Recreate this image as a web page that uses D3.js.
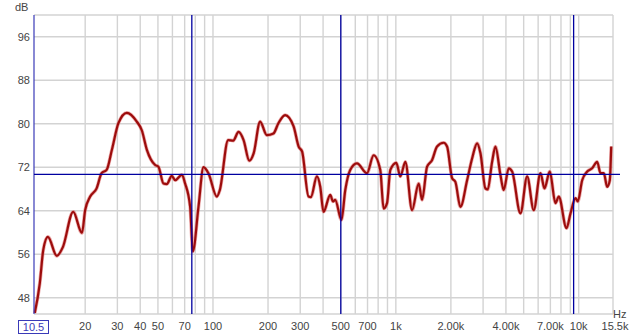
<!DOCTYPE html>
<html>
<head>
<meta charset="utf-8">
<script src="https://cdn.jsdelivr.net/npm/d3@7"></script>
<style>
  body { margin: 0; background: #fff; }
  svg { font-family: "Liberation Sans", Arial, sans-serif; }
  .grid line { stroke: #d3d3d3; stroke-width: 1.4; }
  .lbl { font-size: 11px; fill: #444; }
</style>
</head>
<body>
<script>
var freqs = [10.6, 11.3, 11.8, 12.5, 14.0, 15.1, 17.2, 19.2, 20.0, 21.3, 23.1, 24.6, 26.2, 28.0, 30.4, 33.8,
  38.3, 40.8, 43.5, 48.3, 50.3, 53.6, 55.9, 59.5, 62.1, 67.6, 70.4, 75.0, 77.6, 83.3, 88.7, 94.4,
  105, 109, 121, 129, 138, 147, 158, 167, 181, 197, 214, 228, 248, 276, 294, 307, 333, 343, 370,
  386, 402, 438, 453, 466, 504, 529, 563, 613, 695, 756, 822, 857, 895, 933, 1006, 1058, 1127,
  1226, 1333, 1391, 1482, 1577, 1680, 1826, 1906, 2030, 2116, 2254, 2453, 2612, 2783, 2901, 3089,
  3179, 3361, 3504, 3731, 3889, 4144, 4325, 4801, 5224, 5677, 6178, 6497, 6946, 7463, 7779, 8574,
  9018, 9601, 9883, 10447, 11130, 11845, 12621, 13157, 13713, 14312, 14795, 15057];
var levels = [45.2, 50.7, 56.8, 59.2, 55.7, 57.3, 63.8, 59.9, 64.1, 66.6, 68.1, 70.9, 71.5, 75.2, 80.1, 82.0,
  80.4, 78.8, 75.2, 72.4, 72.1, 69.0, 68.9, 70.4, 69.6, 70.6, 69.0, 64.7, 56.5, 64.7, 72.0, 70.9,
  66.6, 67.8, 77.0, 76.9, 78.5, 77.0, 73.2, 74.6, 80.4, 77.9, 78.2, 80.1, 81.6, 79.5, 75.8, 74.9, 66.6, 66.5, 70.3,
  68.4, 63.8, 66.9, 65.7, 66.0, 62.3, 67.8, 71.5, 72.7, 70.9, 74.2, 71.5, 64.4, 65.4, 71.5, 72.8, 70.3, 73.0,
  64.1, 69.0, 66.0, 72.1, 73.3, 75.8, 76.5, 75.8, 70.0, 69.3, 64.7, 69.6, 73.6, 76.4, 74.6, 68.1,
  67.9, 73.0, 75.8, 70.6, 67.8, 71.8, 71.2, 63.5, 70.3, 64.1, 70.9, 68.1, 71.2, 65.4, 66.6, 60.8,
  63.5, 66.3, 65.7, 69.6, 71.2, 71.8, 73.0, 70.9, 70.9, 68.4, 69.6, 75.8];

var yTicks = [96, 88, 80, 72, 64, 56, 48];
var xTicks = [20, 30, 40, 50, 70, 100, 200, 300, 500, 700, 1000, 2000, 4000, 7000, 10000, 15500];
var xTickText = ["20", "30", "40", "50", "70", "100", "200", "300", "500", "700", "1k", "2.00k", "4.00k", "7.00k", "10k", "15.5k"];
var cursorsHz = [76.6, 500, 9380];
var cursorDb = 70.7;

window.onload = drawChart;

function drawChart() {
    var width = 634, height = 336;
    var plotL = 34, plotR = 613, plotT = 15, plotB = 314;

    var svg = d3.select("body").append("svg")
        .attr("width", width)
        .attr("height", height);

    var x = d3.scaleLog().domain([10.5, 15400]).range([plotL, plotR]);
    var y = d3.scaleLinear().domain([45, 100]).range([plotB, plotT]);

    // grid lines, 10 per decade from 20 Hz
    var gridHz = [];
    [10, 100, 1000].forEach(function(dec) {
        for (var m = 1; m <= 9; m++) {
            var f = dec * m;
            if (f >= 20) gridHz.push(f);
        }
    });
    gridHz.push(10000);

    var grid = svg.append("g").attr("class", "grid");
    grid.selectAll(".vx").data(gridHz).enter().append("line")
        .attr("x1", function(d) { return x(d); })
        .attr("x2", function(d) { return x(d); })
        .attr("y1", plotT).attr("y2", plotB);
    grid.selectAll(".hy").data(yTicks.concat([100])).enter().append("line")
        .attr("x1", plotL).attr("x2", plotR)
        .attr("y1", function(d) { return y(d); })
        .attr("y2", function(d) { return y(d); });
    grid.append("line").attr("x1", plotR).attr("x2", plotR).attr("y1", plotT).attr("y2", plotB);
    grid.append("line").attr("x1", plotL).attr("x2", plotR).attr("y1", plotB).attr("y2", plotB);

    // y labels
    svg.selectAll(".ylab").data(yTicks).enter().append("text")
        .attr("class", "lbl")
        .attr("x", 30)
        .attr("y", function(d) { return y(d) + 4; })
        .attr("text-anchor", "end")
        .text(function(d) { return d; });
    svg.append("text").attr("class", "lbl").attr("x", 15).attr("y", 11).text("dB");

    // x labels
    svg.selectAll(".xlab").data(xTicks).enter().append("text")
        .attr("class", "lbl")
        .attr("x", function(d, i) { return i == xTicks.length - 1 ? 615 : x(d); })
        .attr("y", 330)
        .attr("text-anchor", "middle")
        .text(function(d, i) { return xTickText[i]; });
    svg.append("text").attr("class", "lbl").attr("x", 613).attr("y", 318).text("Hz");

    // start frequency box
    svg.append("rect")
        .attr("x", 18.5).attr("y", 320.5).attr("width", 30).attr("height", 13)
        .attr("fill", "#fff").attr("stroke", "#3a3ab8");
    svg.append("text").attr("class", "lbl")
        .attr("x", 33.5).attr("y", 331)
        .attr("text-anchor", "middle")
        .style("fill", "#3a3ab8")
        .text("10.5");

    // curve
    var pts = freqs.map(function(f, i) { return [f, levels[i]]; });
    var line = d3.line()
        .x(function(d) { return x(d[0]); })
        .y(function(d) { return y(d[1]); })
        .curve(d3.curveMonotoneX);

    svg.append("path").datum(pts)
        .attr("d", line)
        .attr("fill", "none")
        .attr("stroke", "#e07070")
        .attr("stroke-opacity", 0.6)
        .attr("stroke-width", 3.6)
        .attr("stroke-linejoin", "round");
    svg.append("path").datum(pts)
        .attr("d", line)
        .attr("fill", "none")
        .attr("stroke", "#9c0c0c")
        .attr("stroke-width", 2.2)
        .attr("stroke-linejoin", "round");

    // left axis and cursors
    svg.append("line")
        .attr("x1", plotL).attr("x2", plotL).attr("y1", plotT).attr("y2", plotB)
        .attr("stroke", "#3a3ab8").attr("stroke-width", 1.2);
    svg.selectAll(".cur").data(cursorsHz).enter().append("line")
        .attr("x1", function(d) { return x(d); })
        .attr("x2", function(d) { return x(d); })
        .attr("y1", plotT).attr("y2", plotB)
        .attr("stroke", "#0000a0").attr("stroke-width", 1.3);
    svg.append("line")
        .attr("x1", plotL).attr("x2", 620)
        .attr("y1", y(cursorDb)).attr("y2", y(cursorDb))
        .attr("stroke", "#0000a0").attr("stroke-width", 1.3);
}
</script>
</body>
</html>
